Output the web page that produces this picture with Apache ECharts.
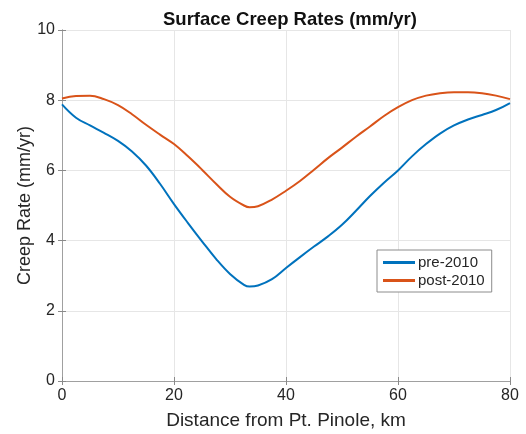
<!DOCTYPE html>
<html>
<head>
<meta charset="utf-8">
<script src="https://cdn.jsdelivr.net/npm/echarts@6/dist/echarts.min.js"></script>
<style>html,body{margin:0;padding:0;background:#fff}#c{width:526px;height:434px}</style>
</head>
<body>
<div id="c"></div>
<script>
const distance = [0,2.5,5,7.5,10,12.5,15,17.5,20,22.5,25,27.5,30,32.5,33.5,35,37.5,40,42.5,45,47.5,50,52.5,55,57.5,60,62.5,65,67.5,70,72.5,75,77.5,80];
const pre2010 = [7.88,7.5,7.28,7.07,6.84,6.54,6.14,5.62,5.04,4.5,3.98,3.48,3.05,2.74,2.69,2.72,2.9,3.22,3.53,3.83,4.12,4.45,4.85,5.27,5.65,6.0,6.4,6.75,7.05,7.28,7.45,7.58,7.72,7.92];
const post2010 = [8.05,8.12,8.13,8.03,7.86,7.6,7.3,7.02,6.75,6.4,6.02,5.62,5.25,5.0,4.95,4.98,5.17,5.42,5.7,6.02,6.35,6.65,6.96,7.25,7.55,7.8,8.0,8.13,8.2,8.23,8.23,8.2,8.13,8.03];
const xTicks = [0,20,40,60,80];
const yTicks = [0,2,4,6,8,10];

const font = 'Liberation Sans, Arial, Helvetica, sans-serif';
const chart = echarts.init(document.getElementById('c'));
const axisCommon = {
  axisLine: {show: true, lineStyle: {color: '#a0a0a0', width: 1}},
  axisTick: {show: true, inside: true, length: 4, lineStyle: {color: '#8a8a8a'}},
  splitLine: {show: true, lineStyle: {color: '#e6e6e6', width: 1}},
  axisLabel: {color: '#262626', fontSize: 16, fontFamily: font}
};
chart.setOption({
  animation: false,
  backgroundColor: '#fff',
  title: {text: 'Surface Creep Rates (mm/yr)', left: 285, top: 5, textAlign: 'center',
    textStyle: {fontSize: 18.5, fontWeight: 'bold', color: '#111', fontFamily: font}},
  grid: {left: 62, right: 16, top: 30, bottom: 53, outerBoundsMode: 'none', containLabel: false},
  legend: {
    orient: 'vertical', left: 377, top: 250, itemWidth: 32, itemHeight: 3, itemGap: 3,
    padding: [5, 7, 4, 6], backgroundColor: '#fff', borderColor: '#8c8c8c', borderWidth: 1, borderRadius: 0,
    icon: 'rect',
    textStyle: {fontSize: 15, color: '#262626', fontFamily: font, padding: [0,0,0,-2]},
    data: ['pre-2010', 'post-2010']
  },
  xAxis: [
    Object.assign({}, axisCommon, {type: 'value', min: 0, max: 80, interval: 20,
      name: 'Distance from Pt. Pinole, km', nameLocation: 'middle', nameGap: 30,
      nameTextStyle: {fontSize: 19, color: '#262626', fontFamily: font},
      axisLabel: Object.assign({}, axisCommon.axisLabel, {margin: 7, formatter: v => xTicks.includes(v) ? String(v) : ''})}),
    Object.assign({}, axisCommon, {type: 'value', position: 'top', min: 0, max: 80, interval: 20,
      axisLabel: {show: false}, splitLine: {show: false}})
  ],
  yAxis: [
    Object.assign({}, axisCommon, {type: 'value', min: 0, max: 10, interval: 2,
      name: 'Creep Rate (mm/yr)', nameLocation: 'middle', nameGap: 28, nameMoveOverlap: false,
      nameTextStyle: {fontSize: 18, color: '#262626', fontFamily: font},
      axisLabel: Object.assign({}, axisCommon.axisLabel, {margin: 7, formatter: v => yTicks.includes(v) ? String(v) : ''})}),
    Object.assign({}, axisCommon, {type: 'value', position: 'right', min: 0, max: 10, interval: 2,
      axisLabel: {show: false}, splitLine: {show: false}})
  ],
  series: [
    {name: 'pre-2010', type: 'line', smooth: 0.4, showSymbol: false, symbol: 'none',
      data: distance.map((d, i) => [d, pre2010[i]]),
      lineStyle: {color: '#0072BD', width: 2}, itemStyle: {color: '#0072BD'}},
    {name: 'post-2010', type: 'line', smooth: 0.4, showSymbol: false, symbol: 'none',
      data: distance.map((d, i) => [d, post2010[i]]),
      lineStyle: {color: '#D95319', width: 2}, itemStyle: {color: '#D95319'}}
  ]
});
</script>
</body>
</html>
